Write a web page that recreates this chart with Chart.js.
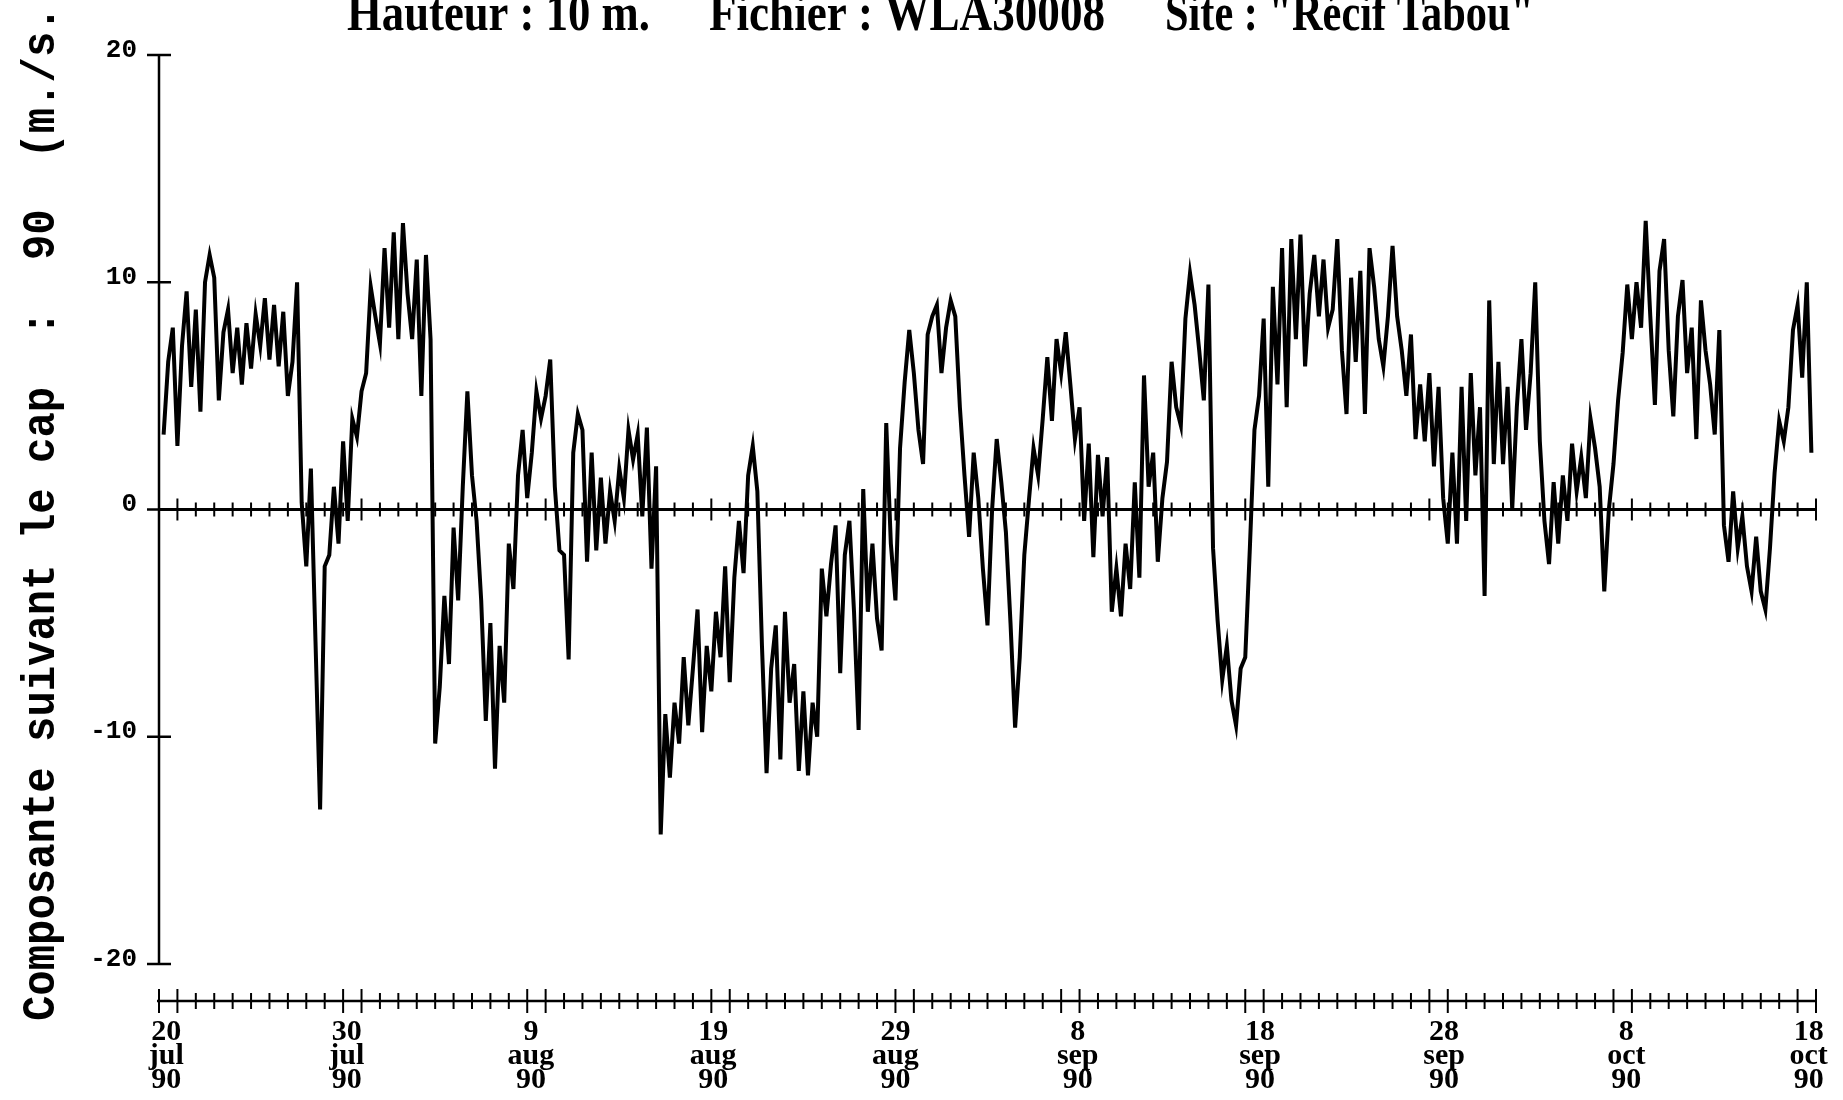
<!DOCTYPE html>
<html>
<head>
<meta charset="utf-8">
<title>WLA30008 - Recif Tabou</title>
<script src="https://cdn.jsdelivr.net/npm/chart.js@4.4.1/dist/chart.umd.min.js"></script>
<style>
  html, body { margin: 0; padding: 0; background: #fff; }
  canvas { display: block; }
</style>
</head>
<body>
<canvas id="windChart" width="1843" height="1100"></canvas>
<script>
/* wind component along heading 90, one reading every 6 hours from 20 jul 90 */
var firstDay = 0.25;
var stepDays = 0.25;

var jul20_aug4 = [3.3, 6.5, 8.0, 2.8, 7.2, 9.6, 5.4, 8.8, 4.3, 10.0,
  11.2, 10.2, 4.8, 7.8, 8.8, 6.0, 8.0, 5.5, 8.2, 6.2,
  8.6, 7.2, 9.3, 6.6, 9.0, 6.3, 8.7, 5.0, 6.5, 10.0,
  0.3, -2.5, 1.8, -5.8, -13.2, -2.5, -2.0, 1.0, -1.5, 3.0,
  -0.5, 4.0, 3.2, 5.2, 6.0, 9.8, 8.5, 7.3, 11.5, 8.0,
  12.2, 7.5, 12.6, 9.5, 7.5, 11.0, 5.0, 11.2, 7.5, -10.3];

var aug4_aug19 = [-7.8, -3.8, -6.8, -0.8, -4.0, 1.0, 5.2, 1.5, -0.5, -4.0,
  -9.3, -5.0, -11.4, -6.0, -8.5, -1.5, -3.5, 1.5, 3.5, 0.5,
  2.5, 5.2, 4.0, 5.0, 6.6, 1.0, -1.8, -2.0, -6.6, 2.5,
  4.2, 3.5, -2.3, 2.5, -1.8, 1.4, -1.5, 0.8, -0.5, 1.8,
  0.5, 3.5, 2.2, 3.3, -0.3, 3.6, -2.6, 1.9, -14.3, -9.0,
  -11.8, -8.5, -10.3, -6.5, -9.5, -7.0, -4.4, -9.8, -6.0, -8.0,
  -4.5];

var aug19_sep3 = [-6.5, -2.5, -7.6, -3.0, -0.5, -2.8, 1.5, 2.8, 0.8, -6.0,
  -11.6, -7.0, -5.1, -11.0, -4.5, -8.5, -6.8, -11.5, -8.0, -11.7,
  -8.5, -10.0, -2.6, -4.7, -2.4, -0.7, -7.2, -2.0, -0.5, -4.5,
  -9.7, 0.9, -4.5, -1.5, -4.8, -6.2, 3.8, -1.5, -4.0, 2.7,
  5.6, 7.9, 6.0, 3.5, 2.0, 7.7, 8.5, 9.0, 6.0, 8.0,
  9.2, 8.5, 4.5, 1.5, -1.2, 2.5, 0.5, -2.6, -5.1, 0.0,
  3.1];

var sep3_sep18 = [1.2, -1.0, -5.0, -9.6, -6.5, -2.0, 0.4, 2.7, 1.5, 4.0,
  6.7, 3.9, 7.5, 6.0, 7.8, 5.5, 3.1, 4.5, -0.5, 2.9,
  -2.1, 2.4, -0.3, 2.3, -4.5, -2.6, -4.7, -1.5, -3.5, 1.2,
  -3.0, 5.9, 1.0, 2.5, -2.3, 0.5, 2.1, 6.5, 4.5, 3.7,
  8.4, 10.4, 9.0, 7.0, 4.8, 9.9, -1.7, -4.9, -7.5, -6.0,
  -8.4, -9.5, -7.0, -6.5, -1.7, 3.5, 5.0, 8.4, 1.0, 9.8,
  5.5];

var sep18_oct3 = [11.5, 4.5, 11.9, 7.5, 12.1, 6.3, 9.5, 11.2, 8.5, 11.0,
  8.0, 8.8, 11.9, 7.0, 4.2, 10.2, 6.5, 10.5, 4.2, 11.5,
  9.8, 7.5, 6.3, 8.5, 11.6, 8.5, 7.0, 5.0, 7.7, 3.1,
  5.5, 3.0, 6.0, 1.9, 5.4, 0.5, -1.5, 2.5, -1.5, 5.4,
  -0.5, 6.0, 1.5, 4.5, -3.8, 9.2, 2.0, 6.5, 2.0, 5.4,
  0.0, 4.5, 7.5, 3.5, 6.0, 10.0, 3.0, -0.5, -2.4, 1.2];

var oct3_oct18 = [-1.5, 1.5, -0.5, 2.9, 0.8, 2.3, 0.5, 4.0, 2.7, 1.0,
  -3.6, 0.0, 2.0, 4.8, 6.9, 9.9, 7.5, 10.0, 8.0, 12.7,
  8.5, 4.6, 10.5, 11.9, 7.0, 4.1, 8.5, 10.1, 6.0, 8.0,
  3.1, 9.2, 7.0, 5.5, 3.3, 7.9, -0.7, -2.3, 0.8, -1.7,
  -0.3, -2.5, -3.6, -1.2, -3.6, -4.4, -1.7, 1.6, 3.9, 3.0,
  4.5, 7.9, 9.0, 5.8, 10.0, 2.5];

var speed = [].concat(jul20_aug4, aug4_aug19, aug19_sep3, sep3_sep18, sep18_oct3, oct3_oct18);

// tick labels
var yTicks = [20, 10, 0, -10, -20];
var xTickDays = [0, 10, 20, 30, 40, 50, 60, 70, 80, 90];
var xLabelAt = [0.4, 10.2, 20.2, 30.1, 40, 49.9, 59.8, 69.8, 79.7, 89.6];
var xTickDate = ['20', '30', '9', '19', '29', '8', '18', '28', '8', '18'];
var xTickMonth = ['jul', 'jul', 'aug', 'aug', 'aug', 'sep', 'sep', 'sep', 'oct', 'oct'];
var xTickYear = '90';
var zeroLongTicks = [1, 11, 21, 30, 40, 49, 59, 69, 80, 90];

var titleParts = [
  { text: 'Hauteur : 10 m.', left: 347, width: 303 },
  { text: 'Fichier : WLA30008', left: 709, width: 396 },
  { text: 'Site : "Récif Tabou"', left: 1165, width: 369 }
];
var yLabel = 'Composante suivant le cap  :  90  (m./s.)';

var points = speed.map(function (v, i) {
  return { x: firstDay + i * stepDays, y: v };
});

function seg(ctx, x1, y1, x2, y2) {
  ctx.beginPath();
  ctx.moveTo(x1, y1);
  ctx.lineTo(x2, y2);
  ctx.stroke();
}

var axesPlugin = {
  id: 'axesPlugin',
  beforeDatasetsDraw: function (chart) {
    var ctx = chart.ctx, a = chart.chartArea;
    var x = chart.scales.x, y = chart.scales.y;
    ctx.save();
    ctx.strokeStyle = '#000';
    ctx.lineCap = 'butt';

    // left axis
    ctx.lineWidth = 2.5;
    seg(ctx, a.left, y.getPixelForValue(20), a.left, y.getPixelForValue(-20));
    yTicks.forEach(function (v) {
      var py = y.getPixelForValue(v);
      seg(ctx, a.left - 12, py, a.left + 12, py);
    });

    // zero line with daily ticks
    var y0 = y.getPixelForValue(0);
    ctx.lineWidth = 3;
    seg(ctx, a.left, y0, a.right, y0);
    ctx.lineWidth = 2;
    for (var d = 1; d <= 90; d++) {
      var px = x.getPixelForValue(d);
      var h = zeroLongTicks.indexOf(d) >= 0 ? 11 : 7;
      seg(ctx, px, y0 - h, px, y0 + h);
    }

    // date axis under the plot
    var yb = y.getPixelForValue(-20) + 37;
    ctx.lineWidth = 2.5;
    seg(ctx, a.left - 2, yb, a.right, yb);
    ctx.lineWidth = 2;
    for (var k = 0; k <= 90; k++) {
      var long = false;
      xTickDays.forEach(function (t) {
        if (t <= 40 && (k === t || k === t + 1)) long = true;
        if (t >= 50 && (k === t || k === t - 1)) long = true;
      });
      var hx = long ? 12 : 8;
      var qx = x.getPixelForValue(k);
      seg(ctx, qx, yb - hx, qx, yb + hx);
    }
    ctx.restore();
  },
  afterDraw: function (chart) {
    var ctx = chart.ctx;
    ctx.save();
    ctx.fillStyle = '#000';
    ctx.textBaseline = 'alphabetic';
    ctx.textAlign = 'left';

    // title, condensed to the original widths
    ctx.font = 'bold 52px "Liberation Serif", "Times New Roman", serif';
    titleParts.forEach(function (p) {
      var w = ctx.measureText(p.text).width;
      ctx.save();
      ctx.translate(p.left, 30);
      ctx.scale(p.width / w, 1);
      ctx.fillText(p.text, 0, 0);
      ctx.restore();
    });

    // vertical axis title
    ctx.font = 'bold 46px "Liberation Mono", "Courier New", monospace';
    var lw = ctx.measureText(yLabel).width;
    ctx.translate(54, 1021);
    ctx.rotate(-Math.PI / 2);
    ctx.scale(1040 / lw, 1);
    ctx.fillText(yLabel, 0, 0);
    ctx.restore();
  }
};

var ctx = document.getElementById('windChart');

var windChart = new Chart(ctx, {
  type: 'line',
  data: {
    datasets: [{
      label: 'Composante',
      data: points,
      borderColor: '#000',
      borderWidth: 4,
      borderJoinStyle: 'miter',
      pointRadius: 0,
      tension: 0,
      fill: false
    }]
  },
  options: {
    responsive: false,
    animation: false,
    devicePixelRatio: 1,
    layout: { padding: { left: 0, right: 27, top: 55, bottom: 0 } },
    plugins: {
      legend: { display: false },
      tooltip: { enabled: false },
      title: { display: false }
    },
    scales: {
      x: {
        type: 'linear',
        min: 0,
        max: 90,
        grid: { display: false, drawTicks: false },
        border: { display: false },
        afterFit: function (scale) {
          scale.height = 136;
          scale.paddingLeft = 0;
          scale.paddingRight = 0;
        },
        afterBuildTicks: function (scale) {
          scale.ticks = xLabelAt.map(function (v) { return { value: v }; });
        },
        ticks: {
          autoSkip: false,
          maxRotation: 0,
          padding: 56,
          color: '#000',
          font: { family: '"Liberation Serif", "Times New Roman", serif', weight: 'bold', size: 30, lineHeight: 0.8 },
          callback: function (v) {
            var i = xLabelAt.indexOf(v);
            return i >= 0 ? [xTickDate[i], xTickMonth[i], xTickYear] : '';
          }
        }
      },
      y: {
        min: -20,
        max: 20,
        grid: { display: false, drawTicks: false },
        border: { display: false },
        afterFit: function (scale) { scale.width = 159; },
        afterBuildTicks: function (scale) {
          scale.ticks = yTicks.map(function (v) { return { value: v }; });
        },
        ticks: {
          padding: 22,
          labelOffset: -5,
          color: '#000',
          font: { family: '"Liberation Mono", "Courier New", monospace', weight: 'bold', size: 26 }
        }
      }
    }
  },
  plugins: [axesPlugin]
});
</script>
</body>
</html>
